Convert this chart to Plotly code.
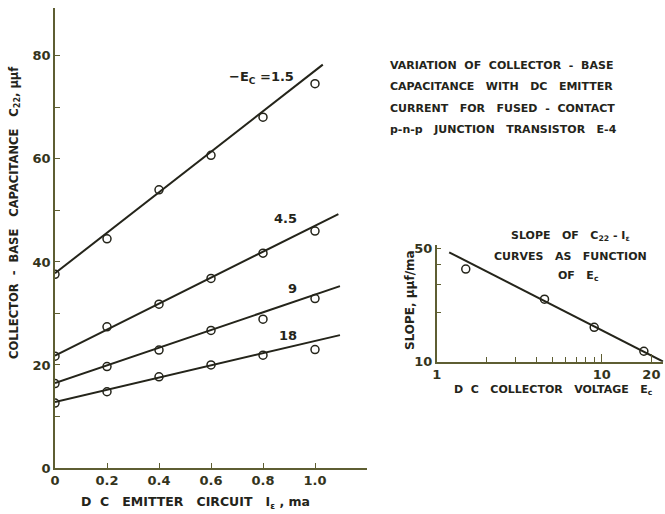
import plotly.graph_objects as go

# ---------------- data ----------------
ie_ma = [0.0, 0.2, 0.4, 0.6, 0.8, 1.0]
series_names = ["1.5", "4.5", "9", "18"]
c22_ec_1p5 = [37.6, 44.5, 54.0, 60.7, 68.1, 74.6]
c22_ec_4p5 = [21.7, 27.4, 31.8, 36.8, 41.7, 46.0]
c22_ec_9 = [16.4, 19.7, 22.9, 26.7, 28.9, 32.9]
c22_ec_18 = [12.6, 14.8, 17.7, 20.0, 21.9, 23.0]

# fitted straight lines (end points)
fit_x = {"1.5": [0.0, 1.03], "4.5": [0.0, 1.09], "9": [0.0, 1.096], "18": [0.0, 1.096]}
fit_y = {"1.5": [37.8, 78.3], "4.5": [21.8, 49.3], "9": [16.5, 35.3], "18": [12.8, 25.8]}

y_ticks = [0, 20, 40, 60, 80]
x_ticks = [0, 0.2, 0.4, 0.6, 0.8, 1.0, 1.2]
x_tick_labels = ["0", "0.2", "0.4", "0.6", "0.8", "1.0", ""]

# inset: slope vs collector voltage
ec_volts = [1.5, 4.5, 9, 18]
slope_vals = [37.3, 24.3, 16.3, 11.6]
slope_fit_x = [1.19, 23.6]
slope_fit_y = [47.3, 10.0]
inset_x_ticks = [1, 10, 20]
inset_x_minor = [2, 3, 4, 5, 6, 7, 8, 9]
inset_y_ticks = [10, 50]
inset_y_minor = [20, 30, 40]

# ---------------- style ----------------
INK = "#24241a"
AXIS = "#5e5e32"
TICKTXT = "#34341c"
FONT = "DejaVu Sans"
NB = "\u00a0"

fig = go.Figure()
all_series = [c22_ec_1p5, c22_ec_4p5, c22_ec_9, c22_ec_18]
for name, ys in zip(series_names, all_series):
    fig.add_trace(go.Scatter(x=fit_x[name], y=fit_y[name], mode="lines",
                             line=dict(color=INK, width=2), showlegend=False,
                             xaxis="x", yaxis="y"))
    fig.add_trace(go.Scatter(x=ie_ma, y=ys, mode="markers",
                             marker=dict(symbol="circle-open", size=8, color=INK,
                                         line=dict(width=1.5, color=INK)),
                             showlegend=False, xaxis="x", yaxis="y"))

fig.add_trace(go.Scatter(x=slope_fit_x, y=slope_fit_y, mode="lines",
                         line=dict(color=INK, width=2), showlegend=False,
                         xaxis="x2", yaxis="y2", cliponaxis=False))
fig.add_trace(go.Scatter(x=ec_volts, y=slope_vals, mode="markers",
                         marker=dict(symbol="circle-open", size=8, color=INK,
                                     line=dict(width=1.5, color=INK)),
                         showlegend=False, xaxis="x2", yaxis="y2"))

W, H = 665, 514
def px(x):
    return x / W
def py(y):
    return (H - y) / H

tickfont = dict(family=FONT, size=13, color=TICKTXT, weight="bold")

fig.update_layout(
    width=W, height=H,
    margin=dict(l=0, r=0, t=0, b=0),
    paper_bgcolor="#ffffff", plot_bgcolor="rgba(0,0,0,0)",
    font=dict(family=FONT, color=INK),
    xaxis=dict(domain=[px(55), px(367)], range=[0, 1.2], showline=True,
               linecolor=AXIS, linewidth=1.5, showgrid=False, zeroline=False,
               ticks="inside", ticklen=5, tickcolor=AXIS, tickwidth=1.2,
               tickvals=x_ticks, ticktext=x_tick_labels, tickfont=tickfont,
               anchor="y", automargin=False),
    yaxis=dict(domain=[py(468), py(8)], range=[0, 89.3], showline=True,
               linecolor=AXIS, linewidth=1.5, showgrid=False, zeroline=False,
               ticks="inside", ticklen=5, tickcolor=AXIS, tickwidth=1.2,
               tickvals=y_ticks, tickfont=tickfont, anchor="x", automargin=False,
               minor=dict(ticks="inside", ticklen=5, tickcolor=AXIS,
                          tick0=10, dtick=20)),
    xaxis2=dict(domain=[px(436.7), px(663.3)], type="log",
                range=[0, 1.373], showline=True, linecolor=AXIS, linewidth=1.5,
                showgrid=False, zeroline=False, ticks="inside", ticklen=8,
                tickcolor=AXIS, tickwidth=1.2, tickvals=inset_x_ticks,
                ticktext=["1", "10", "20"], tickfont=tickfont, anchor="y2",
                automargin=False,
                minor=dict(ticks="inside", ticklen=5, tickcolor=AXIS,
                           tickvals=inset_x_minor)),
    yaxis2=dict(domain=[py(361.7), py(245)], type="log",
                range=[1, 1.72], showline=True, linecolor=AXIS, linewidth=1.5,
                showgrid=False, zeroline=False, ticks="inside", ticklen=5,
                tickcolor=AXIS, tickwidth=1.2, tickvals=inset_y_ticks,
                ticktext=["10", "50"], tickfont=tickfont, anchor="x2",
                automargin=False,
                minor=dict(ticks="inside", ticklen=5, tickcolor=AXIS,
                           tickvals=inset_y_minor)),
)

def sp(s):
    return s.replace("  ", NB * 3).replace(" ", NB * 2)

ann = []
def add(text, x, y, size=12, angle=0, xanchor="center", color=INK):
    ann.append(dict(text=text, x=px(x), y=py(y), xref="paper", yref="paper",
                    showarrow=False, xanchor=xanchor, yanchor="middle",
                    textangle=angle,
                    font=dict(family=FONT, size=size, color=color, weight="bold")))

# series labels
add("\u2212E<sub>C</sub>" + NB + "=1.5", 261, 77, size=13)
add("4.5", 285, 218, size=13)
add("9", 292, 288, size=13)
add("18", 288, 335, size=13)

# axis titles
add(sp("D C  EMITTER  CIRCUIT  I") + "<sub>\u03b5</sub>" + NB + "," + NB + "ma",
    196, 502, size=12.5)
add(sp("COLLECTOR - BASE  CAPACITANCE  C") + "<sub>22</sub>," + NB + "\u03bc\u03bcf",
    15, 213, size=11.5, angle=-90)

# title block
title_lines = ["VARIATION OF COLLECTOR - BASE",
               "CAPACITANCE  WITH  DC  EMITTER",
               "CURRENT  FOR  FUSED - CONTACT",
               "p-n-p  JUNCTION  TRANSISTOR  E-4"]
for i, line in enumerate(title_lines):
    add(sp(line), 388, 65 + i * 21.5, size=11, xanchor="left")

# inset texts
add(sp("SLOPE  OF  C") + "<sub>22</sub>" + NB + "-" + NB + "I<sub>\u03b5</sub>", 570, 236, size=11)
add(sp("CURVES  AS  FUNCTION"), 570, 256, size=11)
add(sp("OF  E") + "<sub>c</sub>", 578, 276, size=11)
add(sp("SLOPE,") + NB + "\u03bc\u03bcf/ma", 410, 300, size=12, angle=-90)
add(sp("D C  COLLECTOR  VOLTAGE  E") + "<sub>c</sub>", 452, 390, size=11, xanchor="left")

fig.update_layout(annotations=ann)
fig.write_html("out.html", config={"displayModeBar": False},
               post_script="document.body.style.margin='0';document.body.style.padding='0';document.body.style.overflow='hidden';")
